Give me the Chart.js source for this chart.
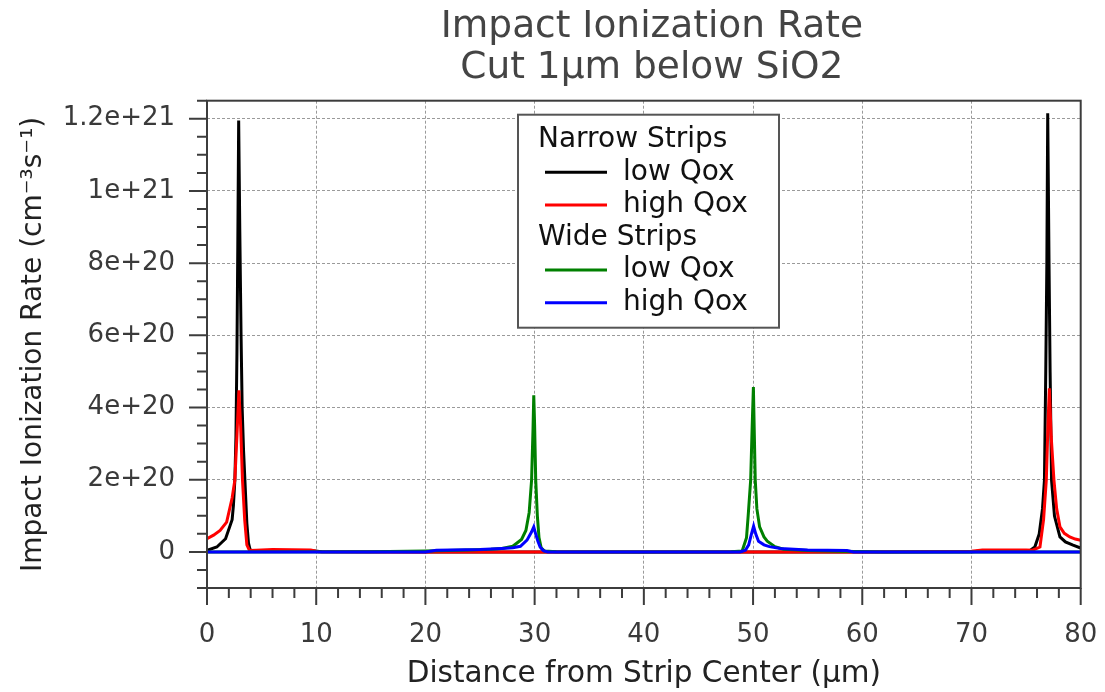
<!DOCTYPE html>
<html>
<head>
  <title>Impact Ionization Rate</title>
  <script src="https://cdn.jsdelivr.net/npm/chart.js"></script>
  <style>body { margin: 0; background: #fff; }</style>
</head>
<body>
<canvas id="myChart" width="1105" height="692"></canvas>
<script>
  // values are in units of 1e20 cm^-3 s^-1
  const UNIT = 1e20;

  const titleLines = ['Impact Ionization Rate', 'Cut 1µm below SiO2'];
  const xTitle = 'Distance from Strip Center (µm)';
  const yTitle = 'Impact Ionization Rate (cm⁻³s⁻¹)';
  const yTickLabels = ['0', '2e+20', '4e+20', '6e+20', '8e+20', '1e+21', '1.2e+21'];
  const groupNames = ['Narrow Strips', 'Wide Strips'];
  const seriesNames = ['low Qox', 'high Qox', 'low Qox', 'high Qox'];

  // narrow strips, low Qox (black)
  const narrowLowX = [0, 0.9, 1.7, 2.3, 2.42, 2.55, 2.65, 2.74, 2.82, 2.9, 3.0, 3.12, 3.22, 3.35, 3.5, 3.65, 3.8, 3.95, 4.3, 5, 9.5, 10.5, 20, 40, 60, 70, 71, 75, 75.4, 75.8, 76.2, 76.5, 76.68, 76.8, 76.9, 76.98, 77.1, 77.2, 77.33, 77.6, 78.1, 78.6, 79.3, 80];
  const narrowLowY = [0.05, 0.14, 0.37, 0.9, 1.3, 2.0, 3.2, 5.5, 8.5, 12, 9, 6, 4.0, 2.8, 1.8, 0.8, 0.25, 0.06, 0.03, 0.04, 0.04, 0.01, 0, 0, 0, 0.01, 0.03, 0.04, 0.05, 0.14, 0.5, 1.2, 2.0, 5, 8, 12.2, 8, 5, 2.0, 1.0, 0.42, 0.28, 0.19, 0.11];

  // narrow strips, high Qox (red)
  const narrowHighX = [0, 0.6, 1.2, 1.8, 2.3, 2.55, 2.75, 2.92, 3.08, 3.25, 3.45, 3.65, 3.9, 4.5, 6, 9.5, 10.2, 20, 60, 70, 71, 75, 75.6, 76.27, 76.6, 76.85, 77.0, 77.13, 77.3, 77.55, 77.8, 78.1, 78.5, 79.0, 79.5, 80];
  const narrowHighY = [0.37, 0.47, 0.6, 0.83, 1.5, 2.0, 3.3, 4.5, 3.5, 2.0, 0.9, 0.2, 0.04, 0.05, 0.07, 0.06, 0.01, 0, 0, 0.02, 0.06, 0.06, 0.05, 0.14, 0.9, 2.0, 3.5, 4.55, 3.2, 2.0, 1.2, 0.7, 0.52, 0.42, 0.36, 0.33];

  // wide strips, low Qox (green)
  const wideLowX = [0, 15, 20, 24, 26, 27, 28, 28.8, 29.2, 29.5, 29.72, 29.85, 29.92, 30.0, 30.1, 30.25, 30.4, 30.6, 30.9, 32, 40, 48, 49.0, 49.4, 49.55, 49.78, 49.92, 50.03, 50.1, 50.2, 50.35, 50.6, 51.0, 51.3, 52, 52.8, 55, 58, 62, 80];
  const wideLowY = [0, 0.01, 0.03, 0.06, 0.08, 0.1, 0.16, 0.35, 0.6, 1.1, 2.0, 3.4, 4.36, 3.5, 2.0, 1.0, 0.4, 0.12, 0.03, 0.01, 0, 0.01, 0.03, 0.4, 1.0, 2.0, 3.5, 4.59, 3.5, 2.0, 1.2, 0.7, 0.42, 0.3, 0.15, 0.08, 0.04, 0.02, 0, 0];

  // wide strips, high Qox (blue)
  const wideHighX = [0, 20, 21, 25, 27, 28, 28.7, 29.3, 29.7, 29.92, 30.1, 30.3, 30.5, 30.8, 31.2, 40, 48.8, 49.3, 49.6, 49.85, 50.05, 50.25, 50.5, 51, 51.5, 52.5, 55, 58.6, 59.2, 80];
  const wideHighY = [0, 0, 0.05, 0.07, 0.1, 0.12, 0.16, 0.33, 0.55, 0.7, 0.5, 0.3, 0.14, 0.04, 0, 0, 0, 0.05, 0.2, 0.5, 0.72, 0.5, 0.3, 0.2, 0.15, 0.1, 0.06, 0.04, 0, 0];

  const FONT = '"DejaVu Sans", sans-serif';
  const frameColor = '#3c3c3c';

  function toPoints(xs, ys) {
    return xs.map((x, i) => ({ x: x, y: ys[i] * UNIT }));
  }
  const isMajorX = v => Math.round(v) % 10 === 0;
  const isMajorY = v => Math.round(v / 5e19) % 4 === 0;

  // title above the plot
  const titlePlugin = {
    id: 'plotTitle',
    afterDraw(chart) {
      const ctx = chart.ctx;
      const cx = (chart.chartArea.left + chart.chartArea.right) / 2 + 8;
      ctx.save();
      ctx.font = '37.5px ' + FONT;
      ctx.fillStyle = '#444';
      ctx.textAlign = 'center';
      ctx.textBaseline = 'alphabetic';
      ctx.fillText(titleLines[0], cx, 37);
      ctx.fillText(titleLines[1], cx, 78);
      ctx.restore();
    }
  };

  // frame, major/minor tick marks and the grouped legend
  const framePlugin = {
    id: 'frameTicks',
    afterDraw(chart) {
      const ctx = chart.ctx;
      const a = chart.chartArea;
      const xs = chart.scales.x, ys = chart.scales.y;
      ctx.save();
      ctx.strokeStyle = frameColor;
      ctx.lineWidth = 2;
      ctx.strokeRect(a.left, a.top, a.right - a.left, a.bottom - a.top);
      ctx.beginPath();
      xs.ticks.forEach(t => {
        const px = xs.getPixelForValue(t.value);
        ctx.moveTo(px, a.bottom);
        ctx.lineTo(px, a.bottom + (isMajorX(t.value) ? 17 : 10));
      });
      ys.ticks.forEach(t => {
        const py = ys.getPixelForValue(t.value);
        ctx.moveTo(a.left, py);
        ctx.lineTo(a.left - (isMajorY(t.value) ? 18 : 10), py);
      });
      ctx.stroke();

      // legend
      const left = a.left + 311, top = a.top + 14, w = 261, h = 213;
      ctx.fillStyle = '#fff';
      ctx.fillRect(left, top, w, h);
      ctx.strokeStyle = '#555';
      ctx.lineWidth = 2;
      ctx.strokeRect(left, top, w, h);
      ctx.font = '28px ' + FONT;
      ctx.textBaseline = 'middle';
      let y = top + 25;
      groupNames.forEach((g, gi) => {
        ctx.fillStyle = '#111';
        ctx.fillText(g, left + 20, y);
        y += 32.6;
        [gi * 2, gi * 2 + 1].forEach(di => {
          const ds = chart.data.datasets[di];
          ctx.strokeStyle = ds.borderColor;
          ctx.lineWidth = 3;
          ctx.beginPath();
          ctx.moveTo(left + 27, y);
          ctx.lineTo(left + 89, y);
          ctx.stroke();
          ctx.fillStyle = '#111';
          ctx.fillText(ds.label, left + 105, y);
          y += 32.6;
        });
      });
      ctx.restore();
    }
  };

  const ctx = document.getElementById('myChart').getContext('2d');

  new Chart(ctx, {
    type: 'line',
    data: {
      datasets: [
        { label: seriesNames[0], data: toPoints(narrowLowX, narrowLowY), borderColor: '#000000', order: 4 },
        { label: seriesNames[1], data: toPoints(narrowHighX, narrowHighY), borderColor: '#ff0000', order: 3 },
        { label: seriesNames[2], data: toPoints(wideLowX, wideLowY), borderColor: '#008000', order: 2 },
        { label: seriesNames[3], data: toPoints(wideHighX, wideHighY), borderColor: '#0000ff', order: 1 }
      ]
    },
    options: {
      responsive: false,
      animation: false,
      layout: { padding: { top: 100.7, right: 24.3, bottom: 0, left: 0 } },
      elements: {
        point: { radius: 0 },
        line: { borderWidth: 3, tension: 0, fill: false }
      },
      plugins: {
        legend: { display: false },
        title: { display: false },
        tooltip: { enabled: false }
      },
      scales: {
        x: {
          type: 'linear',
          min: 0,
          max: 80,
          afterFit(scale) { scale.height = 104; },
          border: { display: false, dash: [3, 2] },
          grid: {
            drawTicks: true,
            tickLength: 28,
            tickColor: 'rgba(0,0,0,0)',
            color: c => (c.tick && isMajorX(c.tick.value)) ? '#9a9a9a' : 'rgba(0,0,0,0)',
            lineWidth: 1
          },
          ticks: {
            stepSize: 2,
            autoSkip: false,
            maxRotation: 0,
            padding: 4,
            color: '#3a3a3a',
            font: { family: FONT, size: 26 },
            callback: v => isMajorX(v) ? String(Math.round(v)) : ''
          },
          title: {
            display: true,
            text: xTitle,
            color: '#222',
            font: { family: FONT, size: 29.5 },
            padding: { top: 0, bottom: 0 }
          }
        },
        y: {
          type: 'linear',
          min: -1e20,
          max: 1.255e21,
          afterFit(scale) { scale.width = 207; },
          border: { display: false, dash: [3, 2] },
          grid: {
            drawTicks: true,
            tickLength: 28,
            tickColor: 'rgba(0,0,0,0)',
            color: c => (c.tick && isMajorY(c.tick.value)) ? '#9a9a9a' : 'rgba(0,0,0,0)',
            lineWidth: 1
          },
          ticks: {
            stepSize: 5e19,
            includeBounds: false,
            autoSkip: false,
            padding: 4,
            color: '#3a3a3a',
            font: { family: FONT, size: 26 },
            callback: v => isMajorY(v) ? yTickLabels[Math.round(v / 2e20)] : ''
          },
          title: {
            display: true,
            text: yTitle,
            color: '#222',
            font: { family: FONT, size: 28 },
            padding: { top: 17, bottom: 0 }
          }
        }
      }
    },
    plugins: [titlePlugin, framePlugin]
  });
</script>
</body>
</html>
